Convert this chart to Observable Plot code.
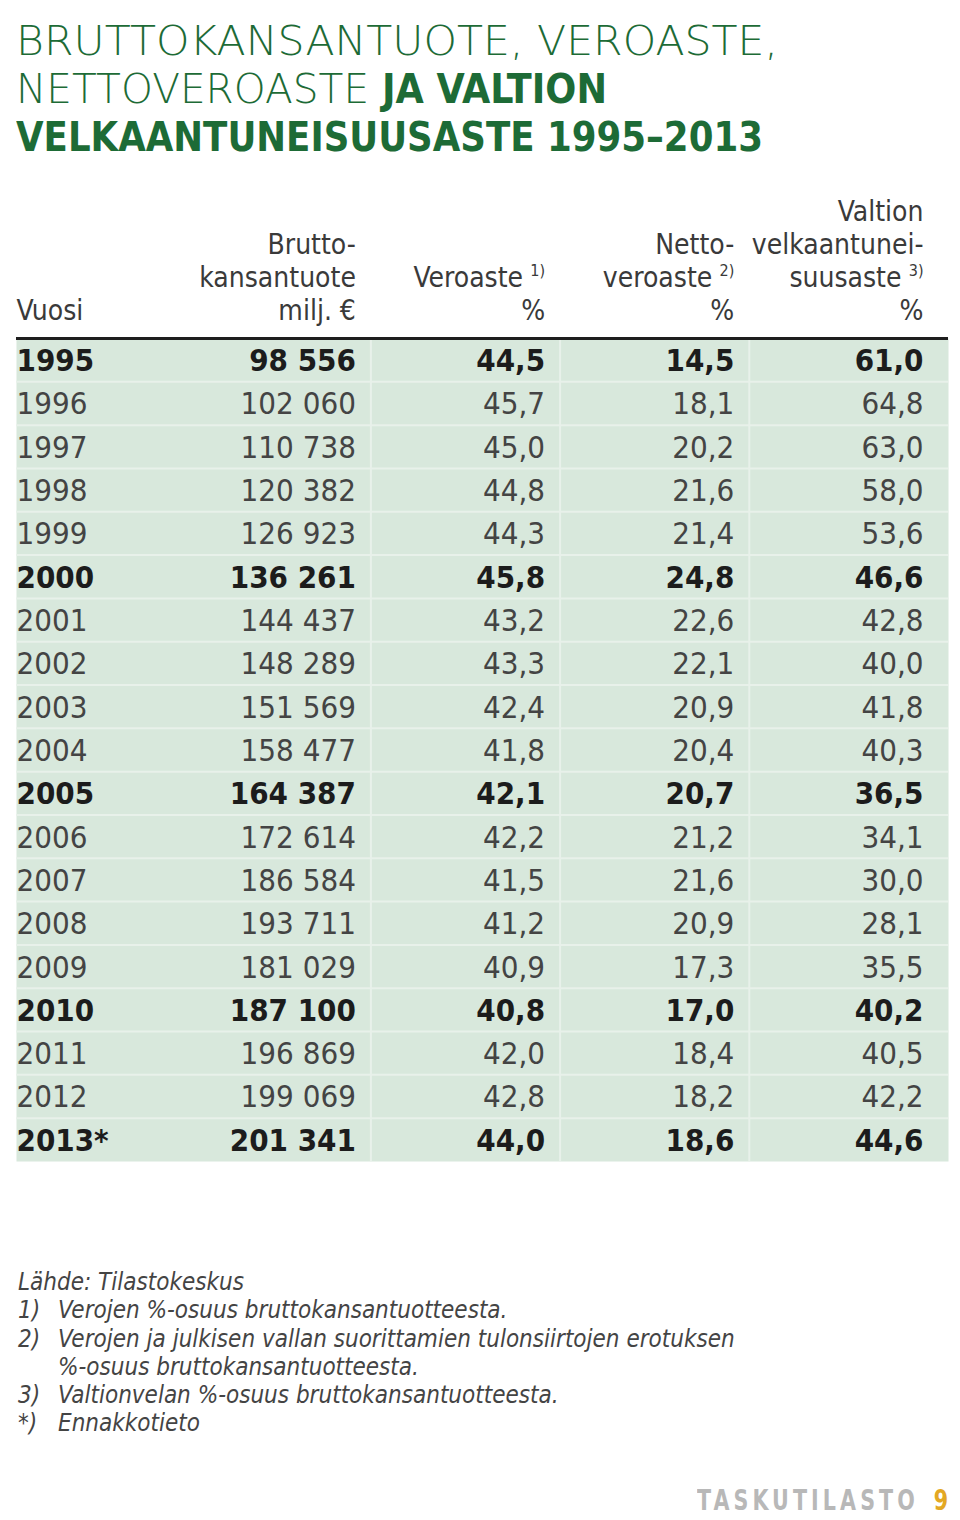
<!DOCTYPE html>
<html>
<head>
<meta charset="utf-8">
<script src="https://cdn.jsdelivr.net/npm/d3@7"></script>
<script src="https://cdn.jsdelivr.net/npm/@observablehq/plot@0.6"></script>
<style>
  html, body { margin: 0; padding: 0; background: #ffffff; }
  body { width: 960px; height: 1520px; position: relative; overflow: hidden;
         font-family: "DejaVu Sans Condensed", "Liberation Sans Narrow", "Roboto", sans-serif; }
  #title { position: absolute; left: 16px; top: 17px; margin: 0; color: #1d6b36;
           font-size: 41px; line-height: 48px; font-weight: normal; }
  #title .line { display: block; white-space: nowrap; transform-origin: 0 50%; width: max-content; height: 48px; }
  #title .lt { font-family: "DejaVu Sans", sans-serif; font-weight: 200; }
  #title b { font-family: "DejaVu Sans Condensed", sans-serif; font-weight: bold; }
  #chart { position: absolute; left: 0; top: 185px; }
  #notes { position: absolute; left: 18px; top: 1268px; color: #444; font-style: italic;
           font-size: 24px; line-height: 28.3px; }
  #notes .row { display: flex; white-space: nowrap; }
  #notes .n { width: 40px; flex: none; }
  #footer { position: absolute; left: 697px; top: 1484px; font-size: 28px; font-weight: bold;
            letter-spacing: 5px; white-space: nowrap; transform-origin: 0 0; width: max-content; }
  #footer .t { color: #b8b8b8; }
  #footer .p { color: #e3a823; margin-left: 18px; letter-spacing: 0; }
</style>
</head>
<body>
<h1 id="title">
  <span class="line fit" data-w="762"><span class="lt">BRUTTOKANSANTUOTE, VEROASTE,</span></span>
  <span class="line fit" data-w="591"><span class="lt">NETTOVEROASTE </span><b>JA VALTION</b></span>
  <span class="line fit" data-w="747"><b>VELKAANTUNEISUUSASTE 1995–2013</b></span>
</h1>
<div id="chart"></div>
<div id="notes">
  <div class="row"><span>Lähde: Tilastokeskus</span></div>
  <div class="row"><span class="n">1)</span><span>Verojen %-osuus bruttokansantuotteesta.</span></div>
  <div class="row"><span class="n">2)</span><span>Verojen ja julkisen vallan suorittamien tulonsiirtojen erotuksen<br>%-osuus bruttokansantuotteesta.</span></div>
  <div class="row"><span class="n">3)</span><span>Valtionvelan %-osuus bruttokansantuotteesta.</span></div>
  <div class="row"><span class="n">*)</span><span>Ennakkotieto</span></div>
</div>
<div id="footer" class="fit" data-w="251"><span class="t">TASKUTILASTO</span><span class="p">9</span></div>
<script>
// ---- data ----
const years = ["1995","1996","1997","1998","1999","2000","2001","2002","2003","2004","2005","2006","2007","2008","2009","2010","2011","2012","2013*"];
const bkt = ["98 556","102 060","110 738","120 382","126 923","136 261","144 437","148 289","151 569","158 477","164 387","172 614","186 584","193 711","181 029","187 100","196 869","199 069","201 341"];
const veroaste = ["44,5","45,7","45,0","44,8","44,3","45,8","43,2","43,3","42,4","41,8","42,1","42,2","41,5","41,2","40,9","40,8","42,0","42,8","44,0"];
const nettoveroaste = ["14,5","18,1","20,2","21,6","21,4","24,8","22,6","22,1","20,9","20,4","20,7","21,2","21,6","20,9","17,3","17,0","18,4","18,2","18,6"];
const velkaaste = ["61,0","64,8","63,0","58,0","53,6","46,6","42,8","40,0","41,8","40,3","36,5","34,1","30,0","28,1","35,5","40,2","40,5","42,2","44,6"];
const boldYears = ["1995","2000","2005","2010","2013*"];
// header lines per column (top to bottom), with footnote markers
const headers = [
  {col: "Vuosi", lines: ["Vuosi"], note: null, noteLine: null},
  {col: "BKT", lines: ["Brutto-", "kansantuote", "milj. €"], note: null, noteLine: null},
  {col: "Veroaste", lines: ["Veroaste", "%"], note: "1)", noteLine: "Veroaste"},
  {col: "Netto", lines: ["Netto-", "veroaste", "%"], note: "2)", noteLine: "veroaste"},
  {col: "Valtion", lines: ["Valtion", "velkaantunei-", "suusaste", "%"], note: "3)", noteLine: "suusaste"}
];
const columns = ["Vuosi", "BKT", "Veroaste", "Netto", "Valtion"];

// ---- fit condensed text lines to their widths ----
document.querySelectorAll(".fit").forEach(el => {
  const w = el.getBoundingClientRect().width;
  el.style.transform = `scaleX(${(+el.dataset.w / w).toFixed(4)})`;
});

// ---- derived tables ----
const valueCols = [bkt, veroaste, nettoveroaste, velkaaste];
const cells = [];
years.forEach((yr, i) => {
  const bold = boldYears.includes(yr);
  cells.push({row: i, col: 0, text: yr, bold, anchor: "start"});
  valueCols.forEach((arr, j) => cells.push({row: i, col: j + 1, text: arr[i], bold, anchor: "end"}));
});
const headerLines = [];
headers.forEach((h, ci) => {
  const n = h.lines.length;
  h.lines.forEach((t, li) => headerLines.push({col: ci, k: n - 1 - li, text: t, noted: t === h.noteLine, note: h.note}));
});
const font = `"DejaVu Sans Condensed", "Liberation Sans Narrow", Roboto, sans-serif`;
const rowIdx = years.map((_, i) => i);
const nRows = years.length;

const marks = [
  Plot.frame({fill: "#d8e8dc", stroke: null}),
  Plot.ruleY(rowIdx.slice(1), {y: d => d, stroke: "#e8f1ea", strokeWidth: 2}),
  Plot.ruleX(d3.range(2, columns.length), {x: d => d, stroke: "#e8f1ea", strokeWidth: 2}),
  Plot.ruleY([0], {y: d => d, stroke: "#1e1e1e", strokeWidth: 3}),
];
// body text
for (const bold of [false, true]) {
  for (const anchor of ["start", "end"]) {
    marks.push(Plot.text(cells.filter(d => d.bold === bold && d.anchor === anchor), {
      x: d => anchor === "start" ? d.col : d.col + 1,
      y: d => d.row + 0.5,
      text: "text",
      textAnchor: anchor,
      dx: anchor === "start" ? 24 : -15,
      dy: 1,
      fontSize: 31,
      fontWeight: bold ? "bold" : "normal",
      fill: bold ? "#1c1c1c" : "#444",
      fontFamily: font
    }));
  }
}
// header text, one mark per line level
for (let k = 0; k < 4; k++) {
  const lines = headerLines.filter(d => d.k === k);
  const dyk = -(27 + 33 * k);
  marks.push(Plot.text(lines.filter(d => d.col === 0), {
    x: d => d.col, y: () => 0, text: "text", textAnchor: "start", dx: 24, dy: dyk,
    fontSize: 28, fill: "#3a3a3a", fontFamily: font
  }));
  marks.push(Plot.text(lines.filter(d => d.col > 0 && !d.noted), {
    x: d => d.col + 1, y: () => 0, text: "text", textAnchor: "end", dx: -15, dy: dyk,
    fontSize: 28, fill: "#3a3a3a", fontFamily: font
  }));
  marks.push(Plot.text(lines.filter(d => d.noted), {
    x: d => d.col + 1, y: () => 0, text: "text", textAnchor: "end", dx: -37, dy: dyk,
    fontSize: 28, fill: "#3a3a3a", fontFamily: font
  }));
  marks.push(Plot.text(lines.filter(d => d.noted), {
    x: d => d.col + 1, y: () => 0, text: "note", textAnchor: "end", dx: -15, dy: dyk - 8,
    fontSize: 16, fill: "#3a3a3a", fontFamily: font
  }));
}

const chart = Plot.plot({
  width: 960,
  height: 980,
  marginTop: 153,
  marginBottom: 4,
  marginLeft: 16,
  marginRight: 12,
  x: {type: "linear", domain: [0, columns.length], range: [-8, 938], axis: null},
  y: {type: "linear", domain: [0, nRows], range: [153, 976], axis: null},
  style: {background: "transparent", fontFamily: font, overflow: "visible"},
  marks
});
document.getElementById("chart").appendChild(chart);
</script>
</body>
</html>
